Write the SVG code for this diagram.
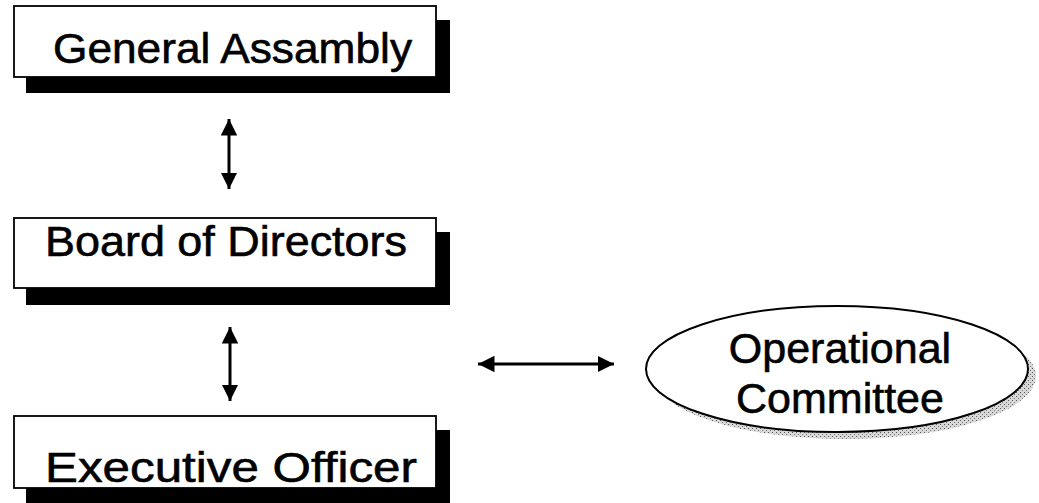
<svg xmlns="http://www.w3.org/2000/svg" width="1039" height="503" viewBox="0 0 1039 503">
<style>
.box{fill:#fff;stroke:#000;stroke-width:1.8}
.shadow{fill:#000}
.lbl{font-family:"Liberation Sans",Arial,sans-serif;font-size:43px;fill:#000;stroke:#000;stroke-width:0.6}
.conn{stroke:#000;stroke-width:3;fill:none}
</style>
<defs>
<marker id="ah" viewBox="0 0 10 10" refX="10" refY="5" markerWidth="5.5" markerHeight="5.5" orient="auto-start-reverse" markerUnits="strokeWidth">
<path d="M0,0 L10,5 L0,10 z" fill="#000"/>
</marker>
<pattern id="stip" width="4" height="4" patternUnits="userSpaceOnUse">
<rect width="4" height="4" fill="#d8d8d8"/>
<rect x="0" y="0" width="1" height="1" fill="#555"/>
<rect x="2" y="2" width="1" height="1" fill="#777"/>
</pattern>
</defs>
<rect width="1039" height="503" fill="#fff"/>
<g id="general-assembly">
<rect class="shadow" x="26" y="20" width="424" height="73"/>
<rect class="box" x="14" y="6" width="422" height="71"/>
<text class="lbl" x="53" y="63" textLength="359" lengthAdjust="spacingAndGlyphs">General Assambly</text>
</g>
<g id="board-of-directors">
<rect class="shadow" x="26" y="232" width="424" height="73"/>
<rect class="box" x="14" y="218" width="422" height="70"/>
<text class="lbl" x="45" y="256" textLength="362" lengthAdjust="spacingAndGlyphs">Board of Directors</text>
</g>
<g id="executive-officer">
<rect class="shadow" x="26" y="430" width="424" height="80"/>
<rect class="box" x="14" y="416" width="422" height="72"/>
<text class="lbl" x="45" y="482" textLength="372" lengthAdjust="spacingAndGlyphs">Executive Officer</text>
</g>
<g id="operational-committee">
<ellipse cx="845" cy="376" rx="191" ry="63" fill="url(#stip)"/>
<ellipse cx="837" cy="369" rx="191" ry="63" fill="#fff" stroke="#000" stroke-width="2"/>
<text class="lbl" x="840" y="363" text-anchor="middle" font-size="44">Operational</text>
<text class="lbl" x="840" y="413" text-anchor="middle" font-size="44">Committee</text>
</g>
<g id="connectors">
<line class="conn" x1="229" y1="119" x2="229" y2="189" marker-start="url(#ah)" marker-end="url(#ah)"/>
<line class="conn" x1="230" y1="327" x2="230" y2="401" marker-start="url(#ah)" marker-end="url(#ah)"/>
<line class="conn" x1="478" y1="364" x2="614" y2="364" marker-start="url(#ah)" marker-end="url(#ah)"/>
</g>
</svg>
